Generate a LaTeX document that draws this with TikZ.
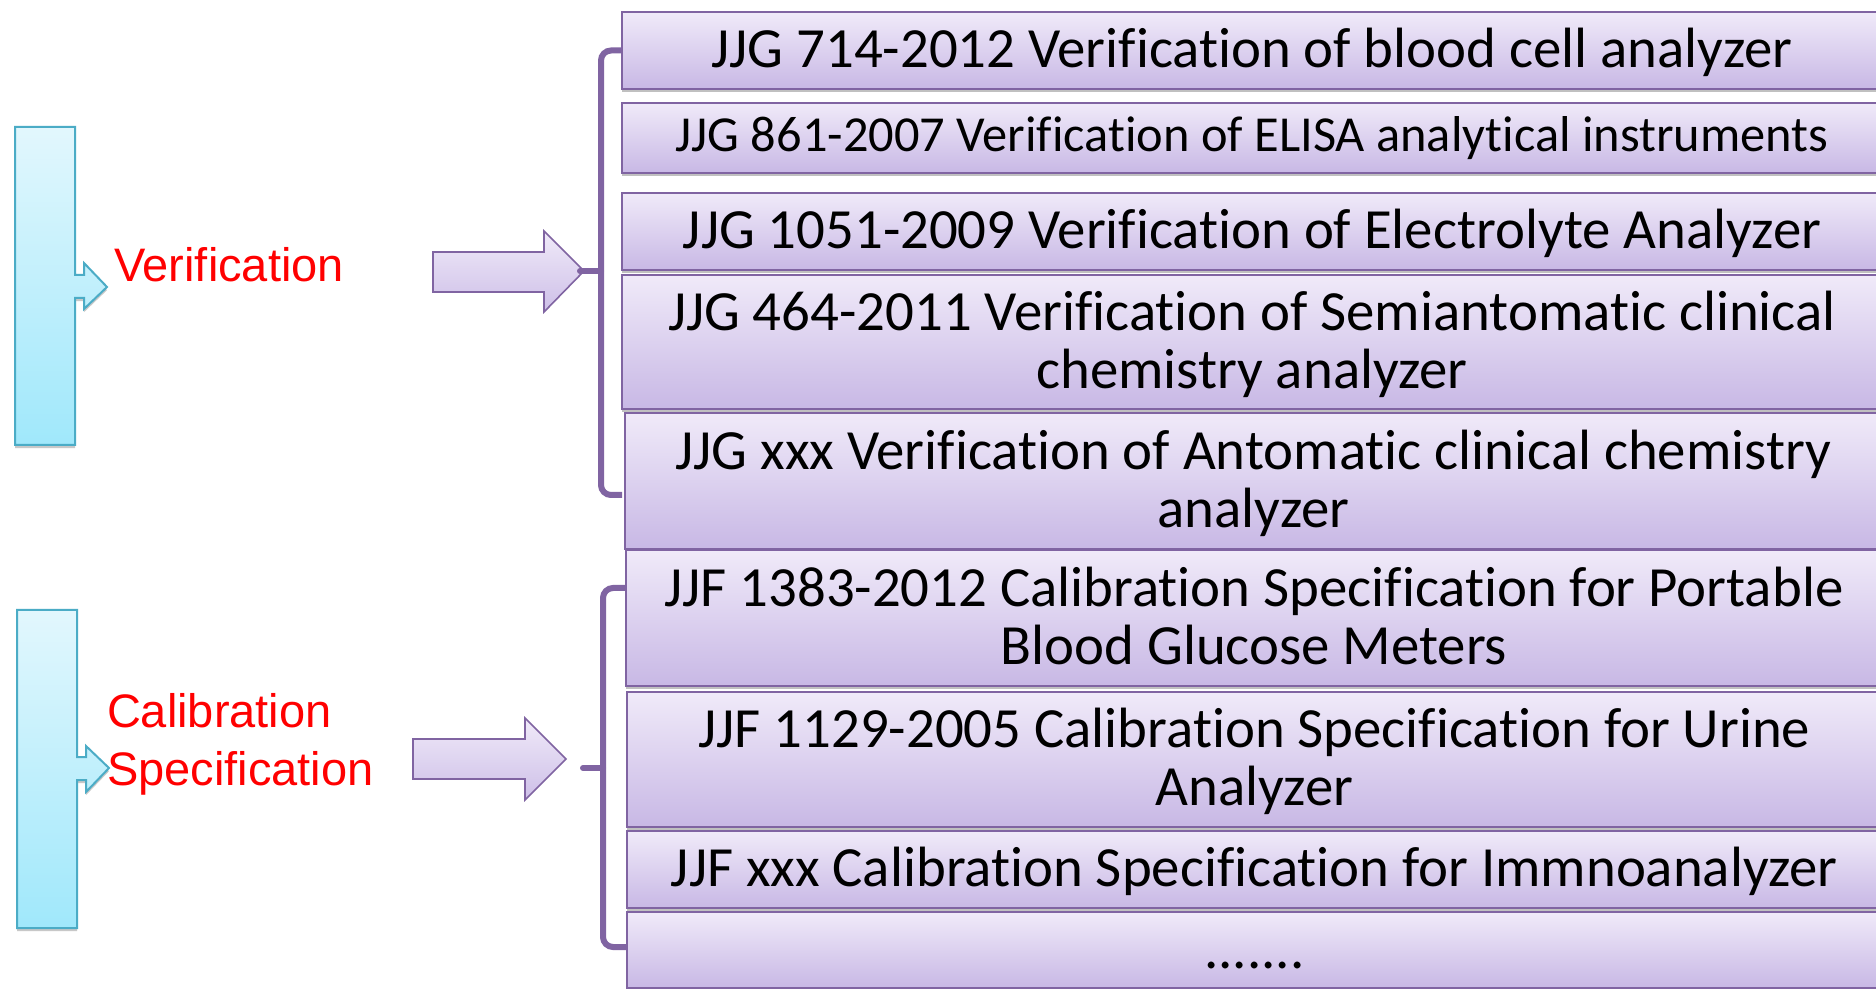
\documentclass[tikz,border=0pt]{standalone}
\usepackage{fontspec}
\setmainfont{Liberation Sans}
\newfontfamily\boxfont[Ligatures=NoCommon]{Carlito}
\usetikzlibrary{shadows}

\definecolor{boxtop}{RGB}{240,234,249}
\definecolor{boxbot}{RGB}{200,184,229}
\definecolor{boxline}{RGB}{128,100,162}
\definecolor{bartop}{RGB}{226,247,253}
\definecolor{barbot}{RGB}{160,232,251}
\definecolor{barline}{RGB}{75,172,198}
\definecolor{labelred}{RGB}{255,0,0}

% centred lines of a box, set a little below the box centre
\newcommand\boxlines[2][2.9pt]{\raisebox{-#1}[\height][\depth]{%
  \begin{tabular}{@{}c@{}}#2\end{tabular}}}

\tikzset{
  stdbox/.style={draw=boxline, line width=1pt, top color=boxtop, bottom color=boxbot,
    inner sep=0pt, outer sep=0pt, text=black,
    font={\boxfont\fontsize{28.4}{29}\selectfont},
    drop shadow={shadow xshift=0pt, shadow yshift=-1.6pt, opacity=0.35, fill=black!70}},
  bluebar/.style={draw=barline, line width=1pt, top color=bartop, bottom color=barbot,
    drop shadow={shadow xshift=0pt, shadow yshift=-1.6pt, opacity=0.3, fill=black!70}},
  blockarrow/.style={draw=boxline, line width=0.8pt, top color=boxtop, bottom color=boxbot!90},
  bracket/.style={draw=boxline, line width=3pt, rounded corners=5pt},
  tick/.style={draw=boxline, line width=3pt, line cap=round},
  redlabel/.style={text=labelred, inner sep=0pt, outer sep=0pt, align=left,
    font={\fontsize{23.5}{29}\selectfont}}
}

\begin{document}
\begin{tikzpicture}[x=0.5pt, y=-0.5pt]
  \useasboundingbox (0,0) rectangle (1876,989);
  \fill[white] (0,0) rectangle (1876,989);

  % left blue bars with side arrows
  \path[bluebar] (15,127) -- (75,127) -- (75,275) -- (84,275) -- (84,263) -- (107,287)
    -- (84,309) -- (84,298) -- (75,298) -- (75,445) -- (15,445) -- cycle;
  \path[bluebar] (17,610) -- (77,610) -- (77,757) -- (86,757) -- (86,746) -- (109,768)
    -- (86,792) -- (86,780) -- (77,780) -- (77,928) -- (17,928) -- cycle;

  % category labels (base anchor sits on the last line)
  \node[redlabel, anchor=base west] (verif) at (114,282) {Verification};
  \node[redlabel, anchor=base west] (calib) at (107,785) {Calibration\\Specification};

  % block arrows
  \path[blockarrow] (433,252) -- (544,252) -- (544,231) -- (584,271) -- (544,312)
    -- (544,292) -- (433,292) -- cycle;
  \path[blockarrow] (413,739) -- (525,739) -- (525,718) -- (566,759) -- (525,800)
    -- (525,779) -- (413,779) -- cycle;

  % verification regulations
  \node[stdbox, minimum width=1260*0.5pt, minimum height=77*0.5pt] (b1) at (1252,50.5)
    {\boxlines{JJG 714-2012 Verification of blood cell analyzer}};
  \node[stdbox, minimum width=1260*0.5pt, minimum height=70*0.5pt,
    font={\boxfont\fontsize{25.2}{29}\selectfont}] (b2) at (1252,138)
    {\boxlines[1pt]{JJG 861-2007 Verification of ELISA analytical instruments}};
  \node[stdbox, minimum width=1260*0.5pt, minimum height=77*0.5pt] (b3) at (1252,231.5)
    {\boxlines{JJG 1051-2009 Verification of Electrolyte Analyzer}};
  \node[stdbox, minimum width=1260*0.5pt, minimum height=134*0.5pt] (b4) at (1252,342)
    {\boxlines{JJG 464-2011 Verification of Semiantomatic clinical\\chemistry analyzer}};
  \node[stdbox, minimum width=1257*0.5pt, minimum height=136*0.5pt] (b5) at (1253.5,481)
    {\boxlines{JJG xxx Verification of Antomatic clinical chemistry\\analyzer}};

  % calibration specifications
  \node[stdbox, minimum width=1256*0.5pt, minimum height=136*0.5pt] (b6) at (1254,618)
    {\boxlines{JJF 1383-2012 Calibration Specification for Portable\\Blood Glucose Meters}};
  \node[stdbox, minimum width=1255*0.5pt, minimum height=135*0.5pt] (b7) at (1254.5,759.5)
    {\boxlines{JJF 1129-2005 Calibration Specification for Urine\\Analyzer}};
  \node[stdbox, minimum width=1255*0.5pt, minimum height=77*0.5pt] (b8) at (1254.5,869.5)
    {\boxlines[2.7pt]{JJF xxx Calibration Specification for Immnoanalyzer}};
  \node[stdbox, minimum width=1255*0.5pt, minimum height=76*0.5pt] (b9) at (1254.5,950)
    {\boxlines[3.2pt]{.......}};

  % brackets gathering each group
  \coordinate (t1) at (580,271);
  \path[bracket] (b1.west) -- (601,50.5) -- (601,495) -- (622,495);
  \path[tick] (t1) -- (601,271);
  \coordinate (t2) at (583,768);
  \path[bracket] (625,588) -- (603,588) -- (603,947) -- (b9.west |- 0,947);
  \path[tick] (t2) -- (603,768);
\end{tikzpicture}
\end{document}
